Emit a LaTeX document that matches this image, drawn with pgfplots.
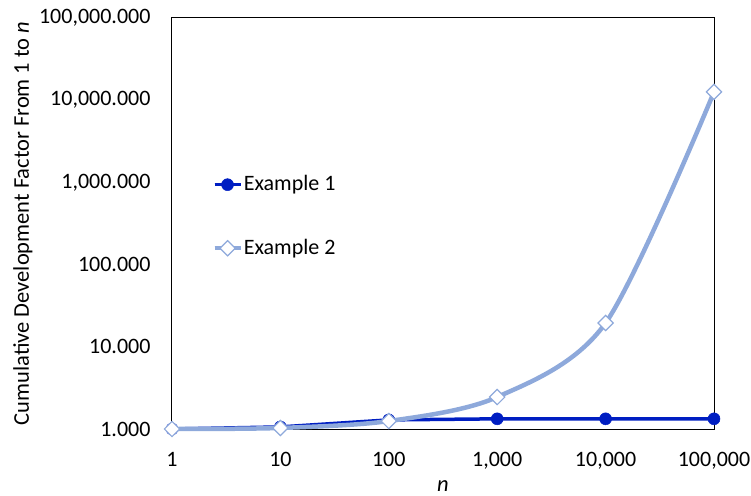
\documentclass[border=0pt]{standalone}
\usepackage{pgfplots}
\pgfplotsset{compat=1.18}
\usepackage{fontspec}
\setmainfont{Carlito}
\definecolor{dkblue}{RGB}{0,30,194}
\definecolor{ltblue}{RGB}{142,169,219}
\begin{document}
\fontsize{22}{26}\selectfont
\begin{tikzpicture}
\begin{axis}[
  at={(0,0)}, anchor=south west,
  scale only axis, width=542pt, height=411pt,
  xmode=log, ymode=log,
  xmin=1, xmax=100000, ymin=1, ymax=100000,
  xtick={1,10,100,1000,10000,100000},
  xticklabels={1,10,100,{1,000},{10,000},{100,000}},
  ytick={1,10,100,1000,10000,100000},
  yticklabels={1.000,10.000,100.000,{1,000.000},{10,000.000},{100,000.000}},
  minor tick num=0, major tick length=0pt,
  xminorticks=false, yminorticks=false,
  axis line style={black, line width=1pt},
  tick label style={font=\fontsize{22}{26}\selectfont},
  xticklabel style={yshift=-16pt},
  yticklabel style={xshift=-14pt},
  xlabel={\textit{n}},
  ylabel={Cumulative Development Factor From 1 to \textit{n}},
  label style={font=\fontsize{22.5}{26}\selectfont},
  xlabel style={at={(axis description cs:0.5,0)}, anchor=north, yshift=-44pt},
  ylabel style={at={(axis description cs:-0.2749,0.5)}, anchor=center},
  legend style={draw=none, fill=none, at={(0.074,0.620)}, anchor=north west,
    row sep=43pt, font=\fontsize{22}{26}\selectfont, inner sep=0pt,
    nodes={inner sep=1pt}},
  legend cell align=left,
  legend image code/.code={
    \draw[#1] (0pt,0pt) -- (26pt,0pt);
    \draw[#1, mark repeat=2, mark phase=2] plot coordinates {(0pt,0pt) (13pt,0pt) (26pt,0pt)};
  },
  clip=false,
]
\addplot[dkblue, line width=3.5pt, mark=*, mark size=6pt, mark options={solid, fill=dkblue, line width=0.5pt}]
  coordinates {(1,1) (10,1.06) (100,1.29) (1000,1.33) (10000,1.33) (100000,1.33)};
\addlegendentry{Example 1}
\addplot[ltblue, line width=4.5pt, smooth, tension=0.5, mark=square*, mark size=5.4pt,
  mark options={solid, rotate=45, fill=white, draw=ltblue, line width=1.2pt}]
  coordinates {(1,1) (10,1.03) (100,1.25) (1000,2.45) (10000,19.5) (100000,12600)};
\addlegendentry{Example 2}
\end{axis}
\pgfresetboundingbox
\path (-172pt,-66pt) rectangle (579pt,429pt);
\end{tikzpicture}
\end{document}
